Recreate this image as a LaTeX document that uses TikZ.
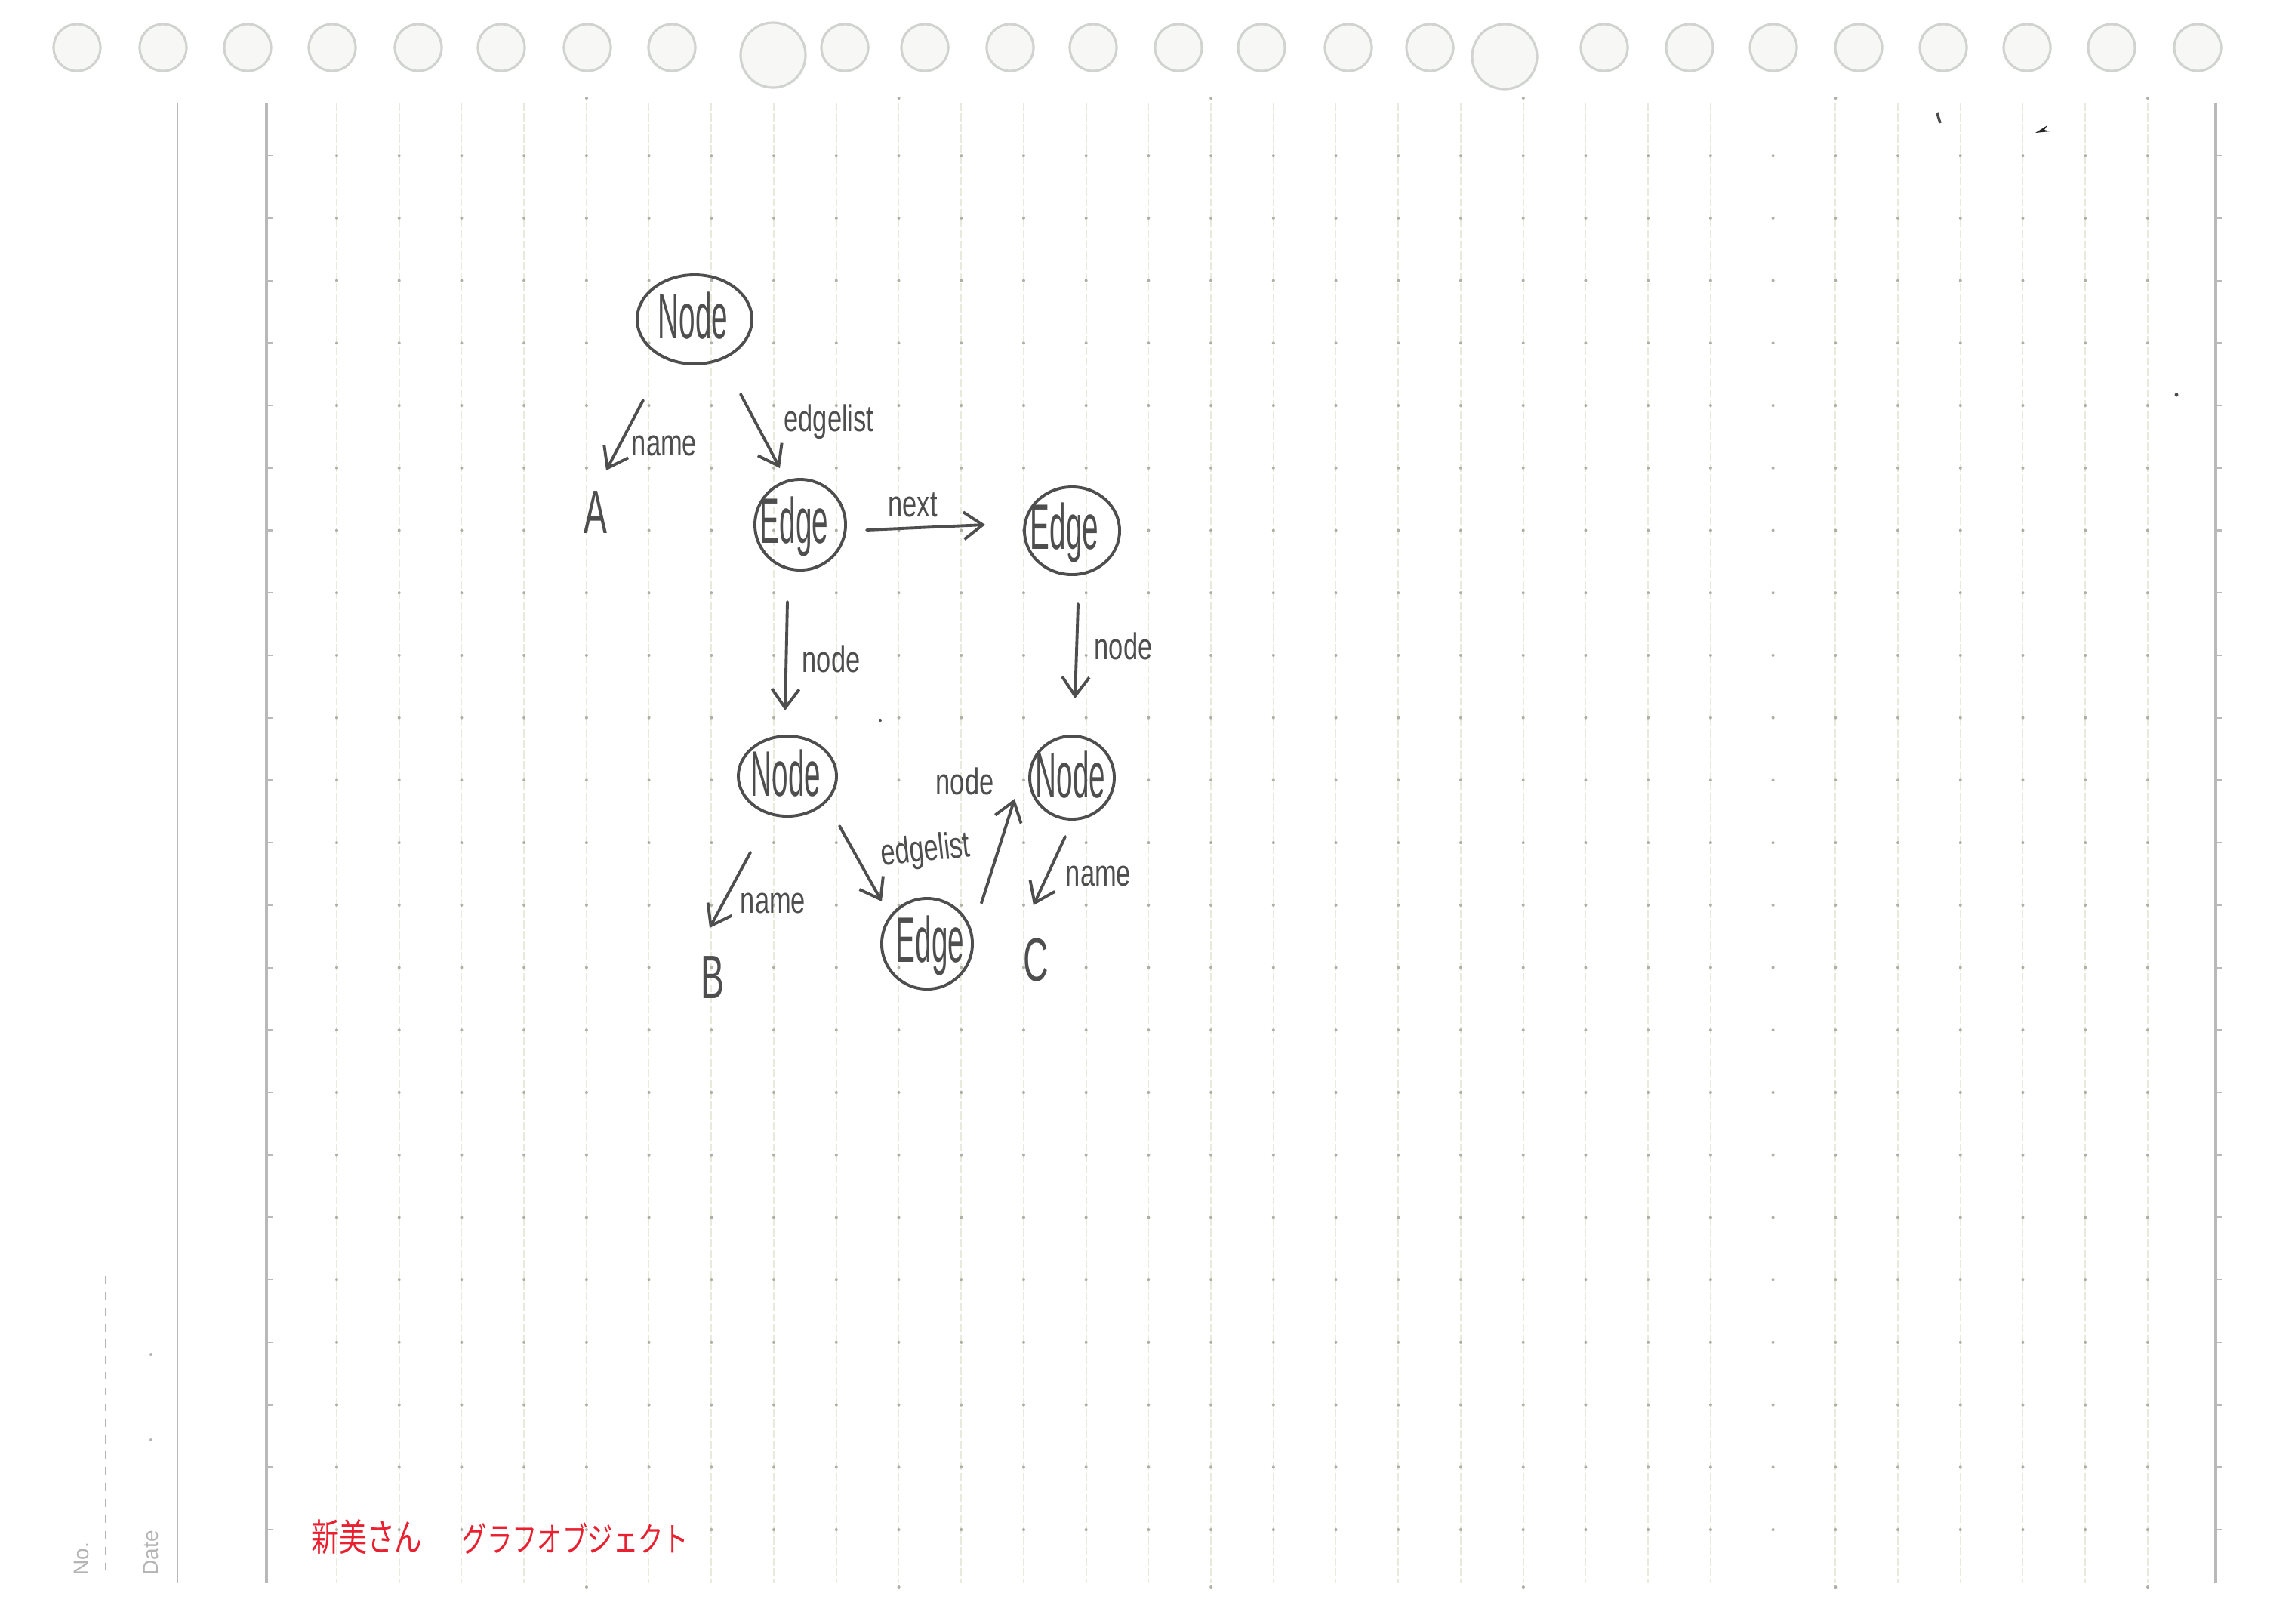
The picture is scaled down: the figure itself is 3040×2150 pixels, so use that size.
\documentclass[tikz,border=0pt]{standalone}
\usepackage{fontspec}
\setmainfont{Liberation Sans}
\newfontfamily\cjk{Noto Sans CJK JP}
\usetikzlibrary{arrows.meta,shapes.geometric,calc}
\definecolor{pencil}{RGB}{78,78,78}
\definecolor{gridline}{RGB}{234,234,220}
\definecolor{griddot}{RGB}{175,175,165}
\definecolor{marginc}{RGB}{185,185,185}
\definecolor{holeedge}{RGB}{208,211,207}
\definecolor{holefill}{RGB}{247,248,246}
\definecolor{redink}{RGB}{232,32,48}
\definecolor{printgrey}{RGB}{180,180,180}
\newcommand{\hwbig}[1]{\scalebox{0.5}[1.1]{\fontsize{22}{22}\selectfont #1}}
\newcommand{\hwsmall}[1]{\scalebox{0.7}[1.0]{\fontsize{14}{14}\selectfont #1}}
\newcommand{\hwletter}[1]{\scalebox{0.6}[1.05]{\fontsize{22}{22}\selectfont #1}}
\tikzset{
  obj/.style={draw=pencil, line width=1.1pt, ellipse, inner sep=0pt},
  lbl/.style={text=pencil, inner sep=0pt},
  arr/.style={draw=pencil, line width=1.1pt, line cap=round,
    -{Straight Barb[length=2.5mm,width=3.6mm]}},
  hole/.style={fill=holefill, draw=holeedge, line width=0.9pt},
  redtxt/.style={text=redink, inner sep=0pt},
  printed/.style={text=printgrey, inner sep=0pt, font=\fontsize{8}{8}\selectfont},
}
\begin{document}
\begin{tikzpicture}[x=0.01cm, y=-0.01cm]
\useasboundingbox (0,0) rectangle (3040,2150);
\fill[white] (0,0) rectangle (3040,2150);

% binder holes
\foreach \hx in {102,216,328,440,554,664,778,890,1119,1225,1338,1448,1561,1671,1786,1894,2125,2238,2349,2462,2574,2685,2797,2911}
  \draw[hole] (\hx,63) circle[radius=0.31cm];
\draw[hole] (1024,73) circle[radius=0.43cm];
\draw[hole] (1993,75) circle[radius=0.43cm];

% ruled grid
\foreach \k in {0,...,29}
  \draw[gridline, line width=0.5pt, dash pattern=on 3pt off 1pt] ({446+82.72*\k},136) -- ({446+82.72*\k},2097);
\draw[marginc, line width=0.7pt] (235,136) -- (235,2097);
\draw[marginc, line width=0.9pt] (353,136) -- (353,2097);
\draw[marginc, line width=0.9pt] (2935,136) -- (2935,2097);
\foreach \j in {0,...,22}{
  \draw[marginc, line width=0.6pt] (353,{2026-82.72*\j}) -- (361,{2026-82.72*\j});
  \draw[marginc, line width=0.6pt] (2935,{2026-82.72*\j}) -- (2943,{2026-82.72*\j});
  \foreach \k in {0,...,29}
    \fill[griddot] ({446+82.72*\k},{2026-82.72*\j}) circle[radius=0.02cm];
}
\foreach \k in {0,...,5}{
  \fill[griddot] ({777+413.6*\k},130) circle[radius=0.02cm];
  \fill[griddot] ({777+413.6*\k},2102) circle[radius=0.02cm];
}

% No. / Date column
\draw[printgrey, line width=0.6pt, dash pattern=on 3pt off 3pt] (140,1690) -- (140,2090);
\node[printed, rotate=90] (noLbl) at (108,2065) {No.};
\node[printed, rotate=90] (dateLbl) at (200,2057) {Date};
\fill[printgrey] (200,1794) circle[radius=0.02cm];
\fill[printgrey] (200,1907) circle[radius=0.02cm];

% stray specks
\fill[black!85] (2696,176) -- (2712,166) -- (2708,172) -- (2716,174) -- cycle;
\draw[black!70, line width=1pt] (2566,150) -- (2570,163);
\fill[black!70] (2883,523) circle[radius=0.025cm];
\fill[black!70] (1166,954) circle[radius=0.02cm];

% objects
\node[obj, minimum width=1.52cm, minimum height=1.18cm] (n1) at (920,423) {};
\node[lbl] (n1t) at (918,418) {\hwbig{Node}};
\node[obj, minimum width=1.20cm, minimum height=1.20cm] (e1) at (1060,695) {};
\node[lbl] (e1t) at (1052,697) {\hwbig{Edge}};
\node[obj, minimum width=1.26cm, minimum height=1.16cm] (e2) at (1420,703) {};
\node[lbl] (e2t) at (1410,705) {\hwbig{Edge}};
\node[obj, minimum width=1.30cm, minimum height=1.06cm] (n2) at (1043,1028) {};
\node[lbl] (n2t) at (1041,1024) {\hwbig{Node}};
\node[obj, minimum width=1.12cm, minimum height=1.10cm] (n3) at (1420,1030) {};
\node[lbl] (n3t) at (1418,1026) {\hwbig{Node}};
\node[obj, minimum width=1.20cm, minimum height=1.20cm] (e3) at (1228,1250) {};
\node[lbl] (e3t) at (1232,1252) {\hwbig{Edge}};

\node[lbl] (A) at (789,679) {\hwletter{A}};
\node[lbl] (B) at (944,1295) {\hwletter{B}};
\node[lbl] (C) at (1372,1271) {\hwletter{C}};

% connectors
\draw[arr] ([shift={(-68,107)}]n1.center) -- ([shift={(14,-56)}]A.center);
\draw[arr] ([shift={(61,99)}]n1.center) -- ([shift={(-27,-75)}]e1.center);
\draw[arr] ([shift={(88,7)}]e1.center) -- ([shift={(-115,-8)}]e2.center);
\draw[arr] ([shift={(-17,102)}]e1.center) -- ([shift={(-3,-87)}]n2.center);
\draw[arr] ([shift={(8,97)}]e2.center) -- ([shift={(4,-105)}]n3.center);
\draw[arr] ([shift={(-49,101)}]n2.center) -- ([shift={(-4,-66)}]B.center);
\draw[arr] ([shift={(69,66)}]n2.center) -- ([shift={(-60,-56)}]e3.center);
\draw[arr] ([shift={(72,-54)}]e3.center) -- ([shift={(-76,28)}]n3.center);
\draw[arr] ([shift={(-9,78)}]n3.center) -- ([shift={(-3,-72)}]C.center);

% connector labels
\node[lbl] (l1) at (880,590) {\hwsmall{name}};
\node[lbl] (l2) at (1098,559) {\hwsmall{edgelist}};
\node[lbl] (l3) at (1209,669) {\hwsmall{next}};
\node[lbl] (l4) at (1101,873) {\hwsmall{node}};
\node[lbl] (l5) at (1488,856) {\hwsmall{node}};
\node[lbl] (l6) at (1024,1196) {\hwsmall{name}};
\node[lbl, rotate=6] (l7) at (1226,1128) {\hwsmall{edgelist}};
\node[lbl] (l8) at (1278,1035) {\hwsmall{node}};
\node[lbl] (l9) at (1455,1160) {\hwsmall{name}};

% red title
\node[redtxt] (t1) at (486,2036) {\scalebox{1}[1.35]{\cjk\fontsize{10.5}{10.5}\selectfont 新美さん}};
\node[redtxt] (t2) at (762,2038) {\scalebox{1}[1.35]{\cjk\fontsize{9.5}{9.5}\selectfont グラフオブジェクト}};
\end{tikzpicture}
\end{document}
